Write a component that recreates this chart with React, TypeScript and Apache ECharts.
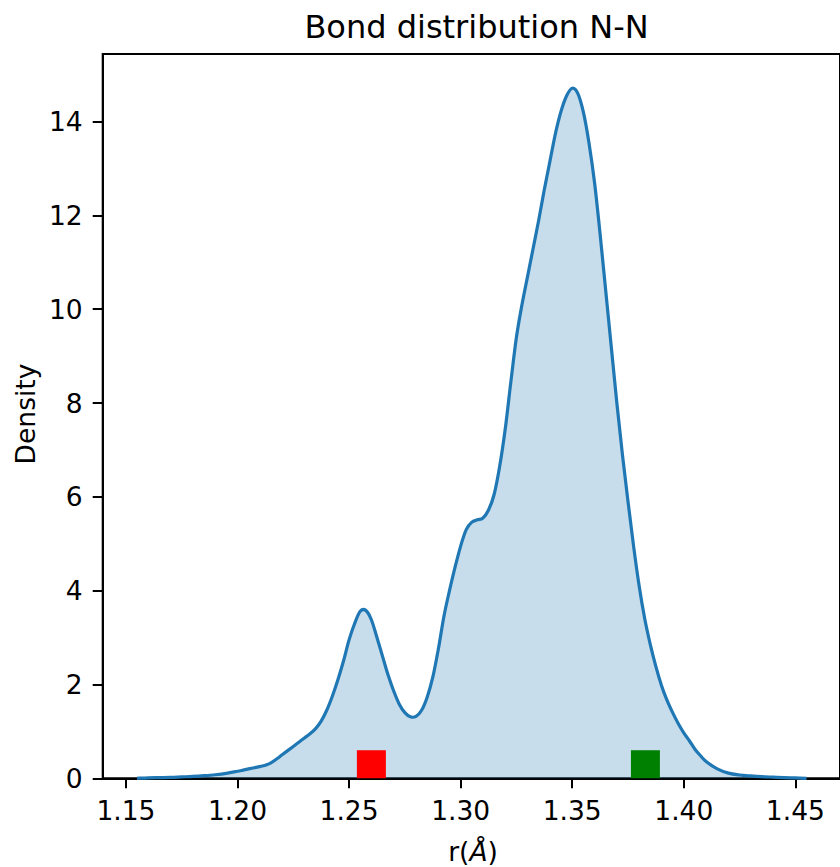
import React, { useEffect, useRef } from "react";
import * as echarts from "echarts";

const kdeX = [
  1.155, 1.16, 1.165, 1.17, 1.175, 1.18, 1.185, 1.19, 1.195, 1.2,
  1.2025, 1.205, 1.2075, 1.21, 1.2125, 1.215, 1.2175, 1.22, 1.2225, 1.225,
  1.2275, 1.23, 1.2325, 1.235, 1.2375, 1.24, 1.2425, 1.245, 1.2475, 1.25,
  1.2525, 1.255, 1.2575, 1.26, 1.2625, 1.265, 1.2675, 1.27, 1.2725, 1.275,
  1.2775, 1.28, 1.2825, 1.285, 1.2875, 1.29, 1.2925, 1.295, 1.2975, 1.3,
  1.3025, 1.305, 1.3075, 1.31, 1.3125, 1.315, 1.3175, 1.32, 1.3225, 1.325,
  1.3275, 1.33, 1.3325, 1.335, 1.3375, 1.34, 1.3425, 1.345, 1.3475, 1.35,
  1.3525, 1.355, 1.3575, 1.36, 1.3625, 1.365, 1.3675, 1.37, 1.3725, 1.375,
  1.3775, 1.38, 1.3825, 1.385, 1.3875, 1.39, 1.3925, 1.395, 1.3975, 1.4,
  1.4025, 1.405, 1.4075, 1.41,
  1.415, 1.42, 1.425, 1.43, 1.435, 1.44, 1.445, 1.45, 1.455,
];
const kdeY = [
  0, 0.01, 0.015, 0.02, 0.03, 0.04, 0.055, 0.075, 0.105, 0.15,
  0.175, 0.2, 0.225, 0.25, 0.28, 0.33, 0.41, 0.5, 0.59, 0.68,
  0.77, 0.86, 0.95, 1.06, 1.22, 1.45, 1.75, 2.1, 2.5, 2.95,
  3.3, 3.56, 3.58, 3.38, 3.0, 2.6, 2.2, 1.86, 1.58, 1.4,
  1.31, 1.32, 1.45, 1.73, 2.15, 2.75, 3.45, 4.0, 4.5, 4.95,
  5.3, 5.46, 5.51, 5.55, 5.72, 6.05, 6.65, 7.45, 8.45, 9.4,
  10.1, 10.7, 11.3, 11.9, 12.55, 13.15, 13.75, 14.22, 14.55, 14.71,
  14.6, 14.2, 13.55, 12.7, 11.6, 10.4, 9.2, 8.0, 6.9, 5.9,
  4.95, 4.1, 3.4, 2.85, 2.38, 1.98, 1.66, 1.4, 1.17, 0.97,
  0.8, 0.62, 0.48, 0.36,
  0.2, 0.11, 0.07, 0.05, 0.035, 0.025, 0.015, 0.008, 0,
];
const markerX = [1.26, 1.3828];
const markerY = [0.3, 0.3];
const markerColors = ["#ff0000", "#008000"];
const xTicks = [1.15, 1.2, 1.25, 1.3, 1.35, 1.4, 1.45];
const yTicks = [0, 2, 4, 6, 8, 10, 12, 14];

const FONT = "DejaVu Sans";
const TICK_FS = 26.5;

function curvePath(pts: number[][]): string {
  const n = pts.length;
  let d = `M${pts[0][0]},${pts[0][1]}`;
  for (let i = 0; i < n - 1; i++) {
    const p0 = pts[Math.max(i - 1, 0)];
    const p1 = pts[i];
    const p2 = pts[i + 1];
    const p3 = pts[Math.min(i + 2, n - 1)];
    const c1x = p1[0] + (p2[0] - p0[0]) / 6;
    const c1y = p1[1] + (p2[1] - p0[1]) / 6;
    const c2x = p2[0] - (p3[0] - p1[0]) / 6;
    const c2y = p2[1] - (p3[1] - p1[1]) / 6;
    d += ` C${c1x},${c1y} ${c2x},${c2y} ${p2[0]},${p2[1]}`;
  }
  return d;
}

export default function App() {
  const ref = useRef<HTMLDivElement>(null);
  useEffect(() => {
    if (!ref.current) return;
    const chart = echarts.init(ref.current, undefined, { renderer: "svg" });
    chart.setOption({
      animation: false,
      backgroundColor: "#ffffff",
      grid: {
        left: 102.7,
        right: -6.7,
        top: 54,
        bottom: 88.7,
        show: true,
        borderColor: "#000000",
        borderWidth: 2,
        backgroundColor: "transparent",
      },
      xAxis: {
        type: "value",
        min: 1.1396,
        max: 1.47,
        splitLine: { show: false },
        axisLine: { show: true, onZero: false, lineStyle: { color: "#000", width: 2 } },
        axisTick: {
          show: true,
          customValues: xTicks,
          length: 10,
          lineStyle: { color: "#000", width: 2 },
        },
        axisLabel: {
          customValues: xTicks,
          formatter: (v: number) => v.toFixed(2),
          fontFamily: FONT,
          fontSize: TICK_FS,
          color: "#000",
          margin: 19,
        },
      },
      yAxis: {
        type: "value",
        min: 0,
        max: 15.44,
        splitLine: { show: false },
        axisLine: { show: true, lineStyle: { color: "#000", width: 2 } },
        axisTick: {
          show: true,
          customValues: yTicks,
          length: 10,
          lineStyle: { color: "#000", width: 2 },
        },
        axisLabel: {
          customValues: yTicks,
          formatter: (v: number) => String(v),
          fontFamily: FONT,
          fontSize: TICK_FS,
          color: "#000",
          margin: 20,
        },
      },
      graphic: [
        {
          type: "text",
          x: 476.5,
          y: 27,
          style: {
            text: "Bond distribution N-N",
            fontFamily: FONT,
            fontSize: 32,
            fill: "#000",
            textAlign: "center",
            textVerticalAlign: "middle",
          },
        },
        {
          type: "text",
          x: 25.5,
          y: 414,
          rotation: Math.PI / 2,
          style: {
            text: "Density",
            fontFamily: FONT,
            fontSize: TICK_FS,
            fill: "#000",
            textAlign: "center",
            textVerticalAlign: "middle",
          },
        },
        {
          type: "text",
          x: 473,
          y: 851,
          style: {
            text: "r({a|Å})",
            fontFamily: FONT,
            fontSize: TICK_FS,
            fill: "#000",
            textAlign: "center",
            textVerticalAlign: "middle",
            rich: {
              a: { fontFamily: FONT, fontSize: TICK_FS, fontStyle: "italic", fill: "#000" },
            },
          },
        },
      ],
      series: [
        {
          type: "custom",
          data: [[kdeX[0], kdeY[0]]],
          encode: { x: 0, y: 1 },
          clip: false,
          z: 2,
          renderItem: (params: any, api: any) => {
            if (params.dataIndex !== 0) return null;
            const pts = kdeX.map((x, i) => api.coord([x, kdeY[i]]));
            const d = curvePath(pts);
            const b0 = api.coord([kdeX[0], 0]);
            const b1 = api.coord([kdeX[kdeX.length - 1], 0]);
            const fillD = `${d} L${b1[0]},${b1[1]} L${b0[0]},${b0[1]} Z`;
            return {
              type: "group",
              children: [
                {
                  type: "path",
                  shape: { pathData: fillD },
                  style: { fill: "rgba(31,119,180,0.25)", stroke: "none" },
                },
                {
                  type: "path",
                  shape: { pathData: d },
                  style: { fill: "none", stroke: "#1f77b4", lineWidth: 3.2 },
                },
              ],
            };
          },
        },
        {
          type: "scatter",
          symbol: "rect",
          symbolSize: [29, 28],
          data: markerX.map((x, i) => ({
            value: [x, markerY[i]],
            itemStyle: { color: markerColors[i], opacity: 1 },
          })),
          z: 3,
        },
      ],
    });
    return () => chart.dispose();
  }, []);
  return (
    <div
      ref={ref}
      style={{ position: "fixed", left: 0, top: 0, width: 840, height: 867 }}
    />
  );
}
